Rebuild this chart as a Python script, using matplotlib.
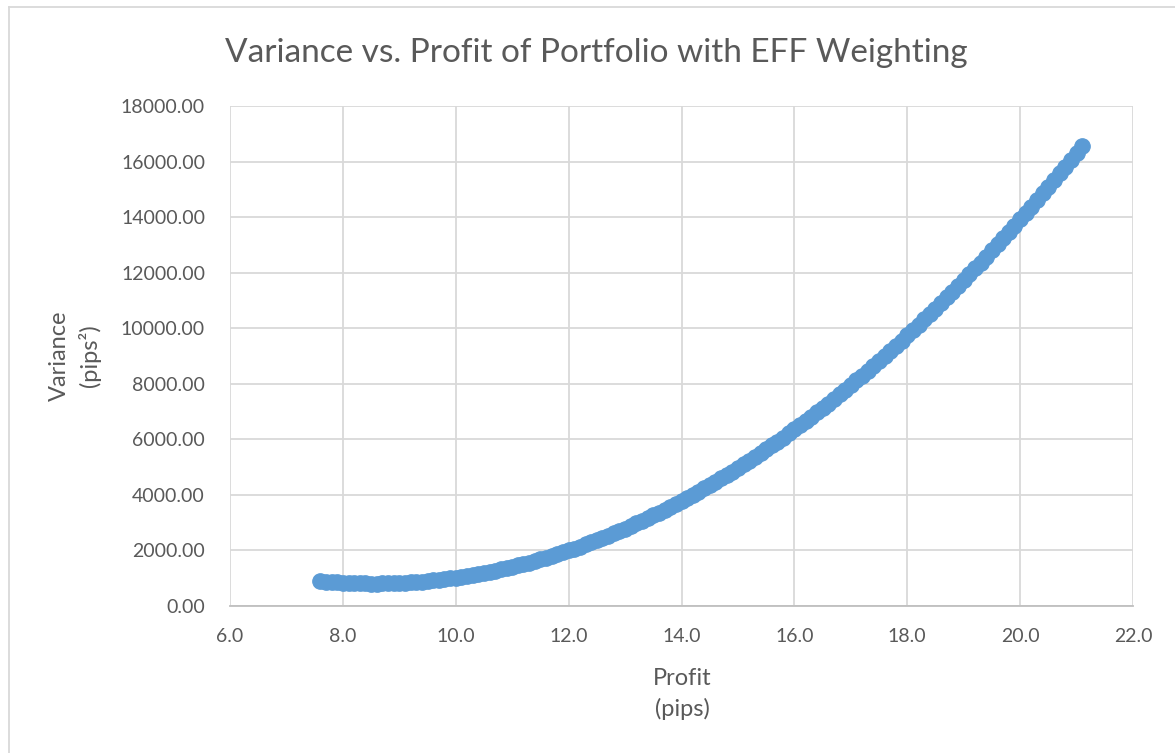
import matplotlib
matplotlib.use("Agg")
import matplotlib.pyplot as plt
from matplotlib.lines import Line2D
from matplotlib.ticker import FormatStrFormatter, MultipleLocator

# Profit (pips) and variance (pips^2)
profit = [7.6, 7.7, 7.8, 7.9, 8.0, 8.1, 8.2, 8.3, 8.4, 8.5,
          8.6, 8.7, 8.8, 8.9, 9.0, 9.1, 9.2, 9.3, 9.4, 9.5,
          9.6, 9.7, 9.8, 9.9, 10.0, 10.1, 10.2, 10.3, 10.4, 10.5,
          10.6, 10.7, 10.8, 10.9, 11.0, 11.1, 11.2, 11.3, 11.4, 11.5,
          11.6, 11.7, 11.8, 11.9, 12.0, 12.1, 12.2, 12.3, 12.4, 12.5,
          12.6, 12.7, 12.8, 12.9, 13.0, 13.1, 13.2, 13.3, 13.4, 13.5,
          13.6, 13.7, 13.8, 13.9, 14.0, 14.1, 14.2, 14.3, 14.4, 14.5,
          14.6, 14.7, 14.8, 14.9, 15.0, 15.1, 15.2, 15.3, 15.4, 15.5,
          15.6, 15.7, 15.8, 15.9, 16.0, 16.1, 16.2, 16.3, 16.4, 16.5,
          16.6, 16.7, 16.8, 16.9, 17.0, 17.1, 17.2, 17.3, 17.4, 17.5,
          17.6, 17.7, 17.8, 17.9, 18.0, 18.1, 18.2, 18.3, 18.4, 18.5,
          18.6, 18.7, 18.8, 18.9, 19.0, 19.1, 19.2, 19.3, 19.4, 19.5,
          19.6, 19.7, 19.8, 19.9, 20.0, 20.1, 20.2, 20.3, 20.4, 20.5,
          20.6, 20.7, 20.8, 20.9, 21.0, 21.1]
variance = [900, 882, 866, 852, 840, 830, 822, 816, 812, 810,
            810, 812, 816, 822, 830, 840, 852, 866, 882, 900,
            920, 942, 966, 992, 1020, 1050, 1082, 1116, 1152, 1190,
            1230, 1272, 1316, 1362, 1410, 1460, 1512, 1566, 1622, 1680,
            1740, 1802, 1866, 1932, 2000, 2070, 2142, 2216, 2292, 2370,
            2450, 2532, 2616, 2702, 2790, 2880, 2972, 3066, 3162, 3260,
            3360, 3462, 3566, 3672, 3780, 3890, 4002, 4116, 4232, 4350,
            4470, 4592, 4716, 4842, 4970, 5100, 5232, 5366, 5502, 5640,
            5780, 5922, 6066, 6212, 6360, 6510, 6662, 6816, 6972, 7130,
            7290, 7452, 7616, 7782, 7950, 8120, 8292, 8466, 8642, 8820,
            9000, 9182, 9366, 9552, 9740, 9930, 10122, 10316, 10512, 10710,
            10910, 11112, 11316, 11522, 11730, 11940, 12152, 12366, 12582, 12800,
            13020, 13242, 13466, 13692, 13920, 14150, 14382, 14616, 14852, 15090,
            15330, 15572, 15816, 16062, 16310, 16560]

title = "Variance vs. Profit of Portfolio with EFF Weighting"
xlabel = "Profit\n(pips)"
ylabel = "Variance\n(pips\u00b2)"

W, H = 1175, 753
plt.rcParams['font.family'] = ['Lato', 'DejaVu Sans']
fig = plt.figure(figsize=(W / 100, H / 100), dpi=100)
ax = fig.add_axes([230 / W, 1 - 606 / H, (1133 - 230) / W, (606 - 106) / H])

txt = '#595959'
grid = '#D9D9D9'
blue = '#5B9BD5'

ax.scatter(profit, variance, s=125, color=blue, edgecolors=blue, linewidths=0.8, zorder=3)

ax.set_xlim(6, 22)
ax.set_ylim(0, 18000)
ax.xaxis.set_major_locator(MultipleLocator(2))
ax.yaxis.set_major_locator(MultipleLocator(2000))
ax.xaxis.set_major_formatter(FormatStrFormatter('%.1f'))
ax.yaxis.set_major_formatter(FormatStrFormatter('%.2f'))
ax.grid(True, color=grid, linewidth=1.3, zorder=0)
ax.set_axisbelow(True)
for s in ['top', 'right', 'left']:
    ax.spines[s].set_visible(False)
ax.spines['bottom'].set_color('#BFBFBF')
ax.spines['bottom'].set_linewidth(1.3)
ax.tick_params(axis='both', length=0, labelsize=14, labelcolor=txt)
ax.tick_params(axis='y', pad=18)
ax.tick_params(axis='x', pad=16)

fig.text(596 / W, 1 - 53 / H, title, ha='center', va='center', fontsize=24, color=txt)
fig.text(682 / W, 1 - 694 / H, xlabel, ha='center', va='center', fontsize=17,
         color=txt, linespacing=1.5)
fig.text(75 / W, 1 - 356 / H, ylabel, ha='center', va='center', fontsize=17,
         color=txt, rotation=90, linespacing=1.45)

fig.add_artist(Line2D([9 / W, 1.0], [1 - 7 / H, 1 - 7 / H], color=grid, linewidth=1.3))
fig.add_artist(Line2D([9 / W, 9 / W], [0, 1 - 7 / H], color=grid, linewidth=1.3))

fig.savefig('out.png', dpi=100, facecolor='white')
